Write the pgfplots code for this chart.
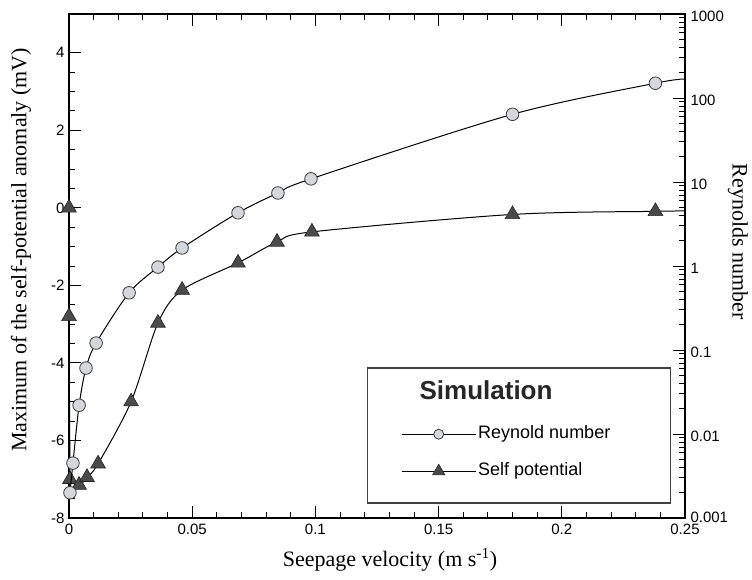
\documentclass[border=0pt]{standalone}
\usepackage{fontspec}
\setmainfont{Liberation Serif}
\setsansfont{Liberation Sans}
\usepackage{pgfplots}
\pgfplotsset{compat=1.18}
\definecolor{circfill}{HTML}{D4D7DB}
\definecolor{circdraw}{HTML}{3A3A3A}
\definecolor{trifill}{HTML}{4A4A4A}
\definecolor{tridraw}{HTML}{252525}
\begin{document}
\begin{tikzpicture}
\pgfplotsset{
  common/.style={
    width=616pt, height=504pt, scale only axis,
    xmin=0, xmax=0.25,
    tick align=inside,
    major tick length=12pt, minor tick length=6pt,
    tick style={black, line width=0.9pt},
    axis line style={line width=1.1pt},
    ticklabel style={font=\sffamily\fontsize{15}{15}\selectfont},
    label style={font=\rmfamily\fontsize{22}{22}\selectfont},
    clip mode=individual,
  }
}
\begin{axis}[common, name=ax1, at={(0,0)}, anchor=south west,
  ymin=-8, ymax=5,
  xtick={0,0.05,0.1,0.15,0.2,0.25},
  xticklabels={0,0.05,0.1,0.15,0.2,0.25},
  minor x tick num=4,
  ytick={-8,-6,-4,-2,0,2,4},
  yticklabels={-8,-6,-4,-2,0,2,4},
  minor y tick num=3,
  xtick pos=both, ytick pos=left,
  xticklabel pos=bottom,
  xticklabel style={yshift=-2pt},
  yticklabel style={xshift=-1pt},
  xlabel={Seepage velocity (m s\textsuperscript{-1})},
  ylabel={Maximum of the self-potential anomaly (mV)},
  x label style={at={(axis description cs:0.521,-0.083)}, anchor=center},
  y label style={at={(axis description cs:-0.078,0.532)}, anchor=center},
]
% self potential line (sharp part near origin)
\addplot[black, line width=1pt] coordinates {
  (0,0) (0,-2.8) (0.0004,-7.0) (0.0041,-7.15)
};
% self potential line (smooth part)
\addplot[black, line width=1pt, smooth, tension=0.5] coordinates {
  (0.0004,-7.0) (0.0041,-7.15) (0.0073,-6.95) (0.0118,-6.6) (0.0252,-5.0)
  (0.0361,-2.97) (0.0459,-2.12) (0.0686,-1.42) (0.0844,-0.88) (0.0986,-0.62)
  (0.180,-0.17) (0.238,-0.09) (0.25,-0.08)
};
% self potential marks
\addplot[only marks, mark=triangle*, mark size=8.5pt,
  mark options={fill=trifill, draw=tridraw, line width=0.6pt}] coordinates {
  (0,0) (0,-2.8) (0.0004,-7.0) (0.0041,-7.15) (0.0073,-6.95) (0.0118,-6.6)
  (0.0252,-5.0) (0.0361,-2.97) (0.0459,-2.12) (0.0686,-1.42) (0.0844,-0.88)
  (0.0986,-0.62) (0.180,-0.17) (0.238,-0.09)
};
\end{axis}
\begin{axis}[common, at={(ax1.south west)}, anchor=south west,
  ymode=log, ymin=1e-3, ymax=1e3,
  axis y line*=right, axis x line=none,
  ytick={1e-3,1e-2,1e-1,1,1e1,1e2,1e3},
  yticklabels={\raisebox{6pt}{0.001},0.01,0.1,1,10,100,1000},
  yticklabel style={xshift=2pt, yshift=-2pt},
  ylabel={Reynolds number},
  y label style={at={(axis description cs:1.086,0.548)}, anchor=center, rotate=180},
  legend style={draw=none, fill=none,
    at={(axis description cs:0.539,0.1865)}, anchor=north west,
    inner sep=0pt, row sep=17pt,
    nodes={font=\sffamily\fontsize{18}{18}\selectfont, text height=12pt, text depth=4pt, inner sep=2pt}},
  legend cell align=left,
  legend image code/.code={
    \draw[mark repeat=2, mark phase=2, #1] plot coordinates {(0pt,0pt) (37pt,0pt) (74pt,0pt)};
  },
]
\addplot[black, line width=1pt, smooth, tension=0.5, forget plot] coordinates {
  (0.0004,0.002) (0.0016,0.0045) (0.0041,0.022) (0.0069,0.061) (0.011,0.121)
  (0.0244,0.48) (0.0361,0.97) (0.0459,1.64) (0.0686,4.3) (0.0848,7.4)
  (0.0982,10.9) (0.180,64) (0.238,150) (0.25,168)
};
\addplot[only marks, mark=*, mark size=6.3pt,
  mark options={fill=circfill, draw=circdraw, line width=0.8pt}, forget plot] coordinates {
  (0.0004,0.002) (0.0016,0.0045) (0.0041,0.022) (0.0069,0.061) (0.011,0.121)
  (0.0244,0.48) (0.0361,0.97) (0.0459,1.64) (0.0686,4.3) (0.0848,7.4)
  (0.0982,10.9) (0.180,64) (0.238,150)
};
\fill[white] (axis description cs:0.484,0.2976) rectangle (axis description cs:0.977,0.0298);
\draw[black!75, line width=1.1pt] (axis description cs:0.484,0.2976) rectangle (axis description cs:0.977,0.0298);
\node[font=\sffamily\bfseries\fontsize{26}{26}\selectfont, text=black!85] at (axis description cs:0.677,0.254) {Simulation};
\addlegendimage{black, line width=1pt, mark=*, mark size=5pt, mark options={fill=circfill, draw=circdraw, line width=0.8pt}}
\addlegendentry{Reynold number}
\addlegendimage{black, line width=1pt, mark=triangle*, mark size=7pt, mark options={fill=trifill, draw=tridraw, line width=0.6pt}}
\addlegendentry{Self potential}
\end{axis}
\pgfresetboundingbox
\path (ax1.south west) ++(-69pt,-61pt) coordinate (bbA);
\path (ax1.north east) ++(67pt,14pt) coordinate (bbB);
\useasboundingbox (bbA) rectangle (bbB);
\end{tikzpicture}
\end{document}
